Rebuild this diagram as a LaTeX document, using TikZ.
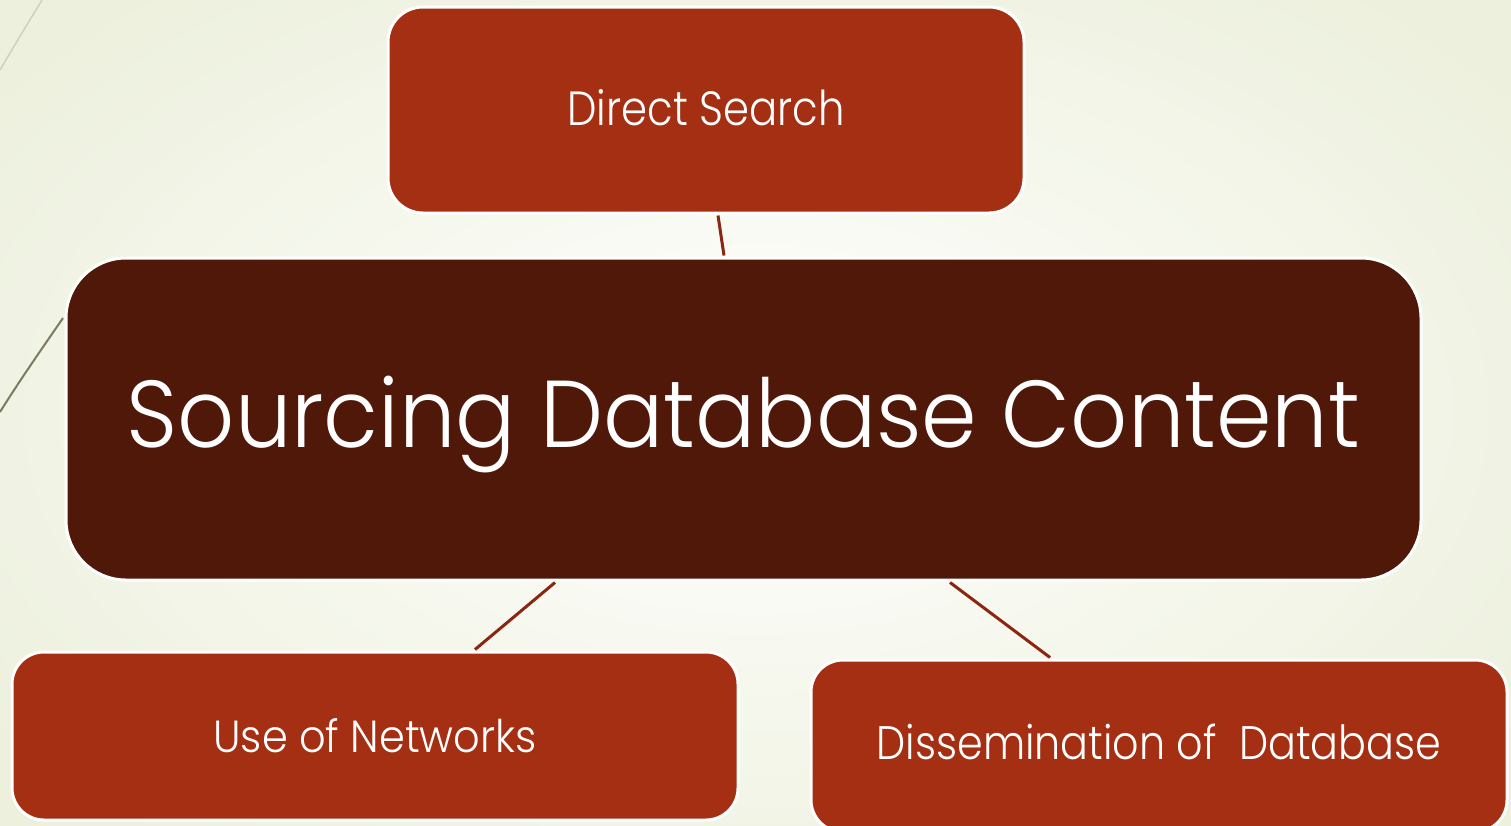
\documentclass[tikz,border=0pt]{standalone}
\usepackage{fontspec}
\usepackage{graphicx}
\setmainfont{Poppins}[UprightFont=* Light]
\definecolor{bgc}{HTML}{ECF0DC}
\definecolor{boxred}{HTML}{A52F12}
\definecolor{boxdark}{HTML}{501809}
\definecolor{linkc}{HTML}{8B2610}
\definecolor{decoA}{HTML}{CFD0C4}
\definecolor{decoB}{HTML}{7C7B62}
\newcommand{\boxtext}[4]{\raisebox{#3}[\height][\depth]{\scalebox{#2}[1]{\fontsize{#1}{#1}\selectfont #4}}}
\tikzset{
  box/.style={rectangle, draw=white, line width=3pt, text=white, inner sep=0pt, align=center},
  child/.style={box, fill=boxred, rounded corners=32pt},
  link/.style={draw=linkc, line width=3pt},
}
\begin{document}
\begin{tikzpicture}[x=1pt,y=-1pt]
\useasboundingbox (0,0) rectangle (1511,825);
\begin{scope}
\clip (0,0) rectangle (1511,825);
\shade[inner color=white, outer color=bgc] (-200,-150) rectangle (1711,975);
\draw[decoA, line width=1.5pt] (0,70) .. controls (14,46) and (28,23) .. (42,0);
\draw[decoB, line width=2pt] (0,412) .. controls (20,380) and (41,350) .. (63,318);
% nodes
\node[child, minimum width=636pt, minimum height=206pt, rounded corners=35pt] (ds) at (706,110) {\boxtext{48}{0.87}{2pt}{Direct Search}};
\node[box, fill=boxdark, minimum width=1355pt, minimum height=322pt, rounded corners=60pt] (main) at (743.5,419) {\boxtext{95}{0.94}{-6pt}{Sourcing Database Content}};
\node[child, minimum width=726pt, minimum height=168pt] (un) at (375,736) {\boxtext{45}{0.923}{0pt}{Use of Networks}};
\node[child, minimum width=696pt, minimum height=172pt] (dd) at (1159,746) {\boxtext{47}{0.878}{4pt}{Dissemination of\ \ Database}};
% connectors
\draw[link] ([xshift=12pt,yshift=-1pt]ds.south) -- ([xshift=-19.5pt,yshift=1pt]main.north);
\draw[link] ([xshift=-188.5pt,yshift=-1pt]main.south) -- ([xshift=100pt,yshift=1pt]un.north);
\draw[link] ([xshift=206.5pt,yshift=-1pt]main.south) -- ([xshift=-109pt,yshift=1pt]dd.north);
\end{scope}
\end{tikzpicture}
\end{document}
